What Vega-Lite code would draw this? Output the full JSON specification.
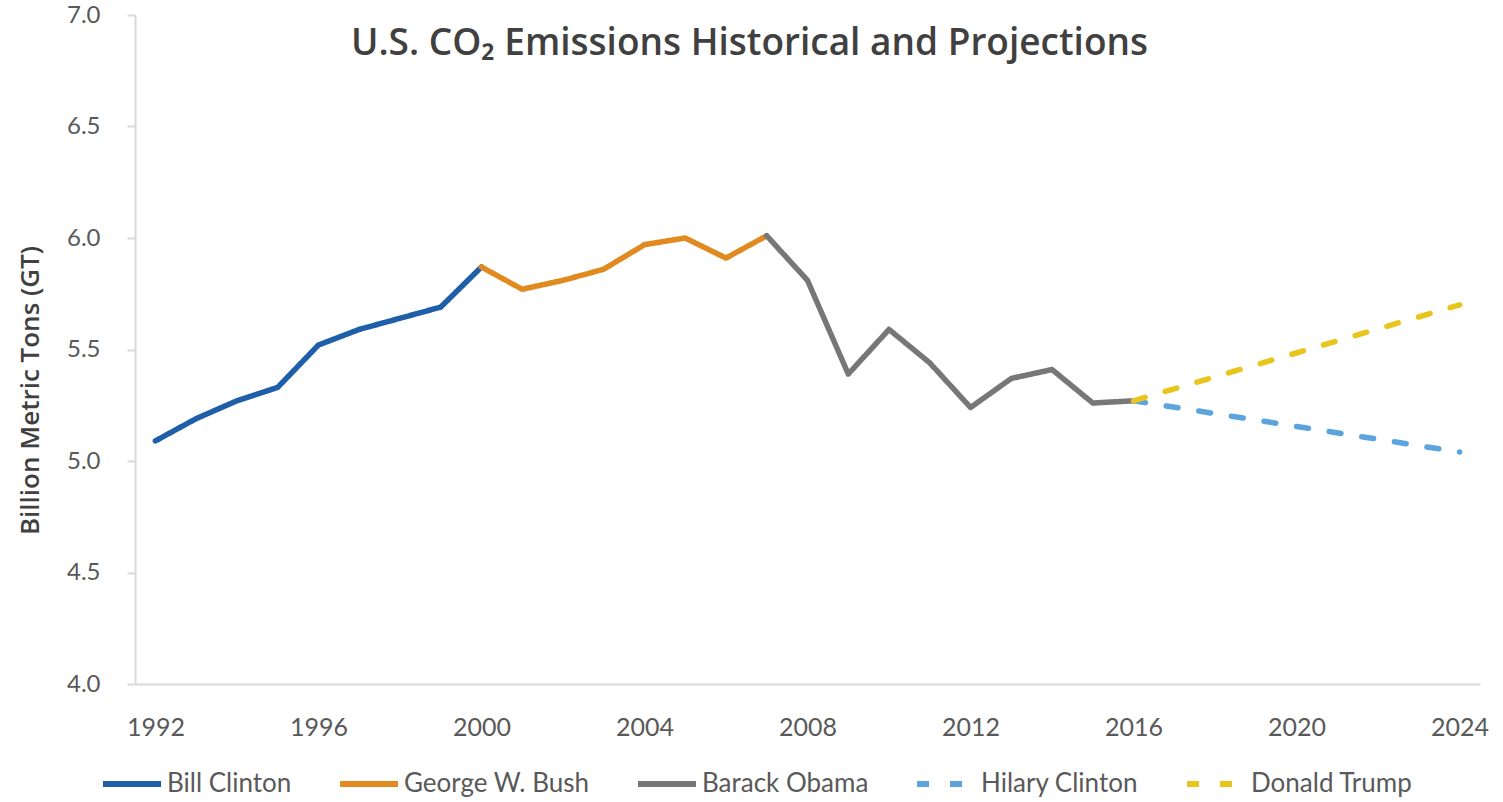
{
  "$schema": "https://vega.github.io/schema/vega-lite/v6.json",
  "width": 1345,
  "height": 669,
  "autosize": {"type": "none"},
  "padding": {"left": 135, "top": 15, "right": 23, "bottom": 118},
  "background": "white",
  "config": {"view": {"stroke": null}, "font": "Lato"},
  "title": {
    "text": "U.S. CO₂ Emissions Historical and Projections",
    "fontSize": 37,
    "font": "Open Sans",
    "fontWeight": 600,
    "color": "#404040",
    "anchor": "middle",
    "dx": -58,
    "offset": -60
  },
  "data": {
    "values": [
      {"president": "Bill Clinton", "year": 1992, "gt": 5.09},
      {"president": "Bill Clinton", "year": 1993, "gt": 5.19},
      {"president": "Bill Clinton", "year": 1994, "gt": 5.27},
      {"president": "Bill Clinton", "year": 1995, "gt": 5.33},
      {"president": "Bill Clinton", "year": 1996, "gt": 5.52},
      {"president": "Bill Clinton", "year": 1997, "gt": 5.59},
      {"president": "Bill Clinton", "year": 1998, "gt": 5.64},
      {"president": "Bill Clinton", "year": 1999, "gt": 5.69},
      {"president": "Bill Clinton", "year": 2000, "gt": 5.87},
      {"president": "George W. Bush", "year": 2000, "gt": 5.87},
      {"president": "George W. Bush", "year": 2001, "gt": 5.77},
      {"president": "George W. Bush", "year": 2002, "gt": 5.81},
      {"president": "George W. Bush", "year": 2003, "gt": 5.86},
      {"president": "George W. Bush", "year": 2004, "gt": 5.97},
      {"president": "George W. Bush", "year": 2005, "gt": 6.0},
      {"president": "George W. Bush", "year": 2006, "gt": 5.91},
      {"president": "George W. Bush", "year": 2007, "gt": 6.01},
      {"president": "Barack Obama", "year": 2007, "gt": 6.01},
      {"president": "Barack Obama", "year": 2008, "gt": 5.81},
      {"president": "Barack Obama", "year": 2009, "gt": 5.39},
      {"president": "Barack Obama", "year": 2010, "gt": 5.59},
      {"president": "Barack Obama", "year": 2011, "gt": 5.44},
      {"president": "Barack Obama", "year": 2012, "gt": 5.24},
      {"president": "Barack Obama", "year": 2013, "gt": 5.37},
      {"president": "Barack Obama", "year": 2014, "gt": 5.41},
      {"president": "Barack Obama", "year": 2015, "gt": 5.26},
      {"president": "Barack Obama", "year": 2016, "gt": 5.27},
      {"president": "Hilary Clinton", "year": 2016, "gt": 5.27},
      {"president": "Hilary Clinton", "year": 2024, "gt": 5.04},
      {"president": "Donald Trump", "year": 2016, "gt": 5.27},
      {"president": "Donald Trump", "year": 2024, "gt": 5.70}
    ]
  },
  "mark": {"type": "line", "strokeWidth": 5.5, "strokeCap": "round", "strokeJoin": "round"},
  "encoding": {
    "x": {
      "field": "year",
      "type": "quantitative",
      "scale": {"domain": [1991.5, 2024.5], "nice": false, "zero": false},
      "axis": {
        "values": [1992, 1996, 2000, 2004, 2008, 2012, 2016, 2020, 2024],
        "format": "d",
        "title": null,
        "grid": false,
        "ticks": false,
        "domainColor": "#d9d9d9",
        "domainWidth": 2,
        "labelFontSize": 25,
        "labelColor": "#595959",
        "labelPadding": 31
      }
    },
    "y": {
      "field": "gt",
      "type": "quantitative",
      "scale": {"domain": [4, 7], "nice": false, "zero": false},
      "axis": {
        "values": [4, 4.5, 5, 5.5, 6, 6.5, 7],
        "format": ".1f",
        "title": "Billion Metric Tons (GT)",
        "grid": false,
        "tickSize": 8,
        "tickColor": "#d9d9d9",
        "tickWidth": 2,
        "domainColor": "#d9d9d9",
        "domainWidth": 2,
        "labelFontSize": 24,
        "labelColor": "#595959",
        "labelPadding": 27,
        "titleFontSize": 26,
        "titleFont": "Open Sans",
        "titleFontWeight": 600,
        "titleColor": "#404040",
        "titleX": -105,
        "titleY": 375,
        "titleAngle": -90,
        "titleBaseline": "middle",
        "titleAlign": "center"
      }
    },
    "color": {
      "field": "president",
      "type": "nominal",
      "sort": null,
      "scale": {
        "domain": ["Bill Clinton", "George W. Bush", "Barack Obama", "Hilary Clinton", "Donald Trump"],
        "range": ["#1f5ea8", "#e08a1f", "#777777", "#5ba4de", "#e9c41b"]
      },
      "legend": {
        "title": null,
        "orient": "none",
        "legendX": -35,
        "legendY": 737,
        "direction": "horizontal",
        "symbolType": "stroke",
        "symbolSize": 3364,
        "symbolStrokeWidth": 6,
        "labelFontSize": 26,
        "labelLimit": 400,
        "labelColor": "#595959",
        "labelOffset": 3,
        "columnPadding": 36,
        "encode": {
          "symbols": {
            "update": {
              "strokeDash": [
                {"test": "datum.value === 'Hilary Clinton' || datum.value === 'Donald Trump'", "value": [22, 12]},
                {"value": [1, 0]}
              ]
            }
          }
        }
      }
    },
    "strokeDash": {
      "field": "president",
      "type": "nominal",
      "sort": null,
      "scale": {
        "domain": ["Bill Clinton", "George W. Bush", "Barack Obama", "Hilary Clinton", "Donald Trump"],
        "range": [[1, 0], [1, 0], [1, 0], [12, 21], [12, 21]]
      },
      "legend": null
    }
  }
}
